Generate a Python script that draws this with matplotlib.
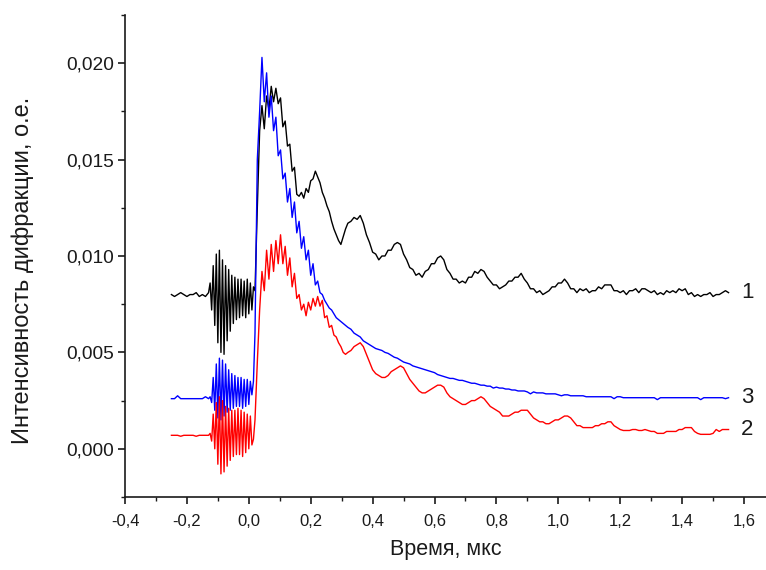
import numpy as np
import matplotlib
matplotlib.use("Agg")
import matplotlib.pyplot as plt
from matplotlib.ticker import MultipleLocator, FuncFormatter

plt.rcParams['font.family'] = ['Liberation Sans', 'DejaVu Sans']

# ---- data (intensity values in units of 1e-4) ----
# sampling grids: start, step for each segment
base_start, base_step = -0.25, 0.01      # quiet pre-trigger baseline
burst_start, burst_step = -0.125, 0.005  # pre-trigger oscillation burst
peak_start, peak_step = 0.02, 0.0075     # rise and peak
tail_start, tail_step = 0.33, 0.01       # decay

curve1_base = [80, 79, 80, 81, 80, 79, 80, 80, 81, 79, 80, 79, 81]
curve1_burst = [86, 72, 95, 64, 101, 55, 103, 50, 98, 49, 95, 56, 93, 61, 90,
                65, 89, 67, 88, 68, 88, 69, 87, 68, 88, 70, 86, 72, 84]
curve1_peak = [82, 125, 165, 178, 166, 183, 176, 188, 180, 187,
               179, 182, 167, 170, 157, 158, 144, 146, 132, 131,
               133, 130, 135, 133, 139, 140, 144, 141, 138, 133,
               130, 126, 123, 118, 114, 111, 108, 106, 110, 114,
               117]
curve1_tail = [118, 120, 119, 121, 117, 111, 107, 102, 101, 98,
               100, 100, 103, 103, 106, 107, 106, 101, 98, 94,
               93, 90, 91, 89, 92, 93, 96, 96, 99, 100,
               98, 93, 91, 88, 88, 86, 87, 86, 89, 89,
               92, 91, 93, 92, 89, 87, 85, 85, 83, 84,
               85, 87, 87, 89, 89, 91, 88, 86, 83, 83,
               81, 82, 80, 81, 82, 84, 84, 86, 86, 88,
               86, 83, 83, 81, 83, 82, 83, 81, 82, 82,
               84, 83, 85, 85, 85, 82, 82, 81, 82, 80,
               82, 82, 83, 81, 83, 83, 82, 81, 82, 80,
               81, 80, 82, 81, 82, 81, 83, 82, 83, 80,
               81, 79, 80, 79, 80, 80, 81, 79, 80, 80,
               81, 82, 81]

curve2_base = [7, 7, 7, 6.5, 7, 7, 7, 7, 6.5, 7, 7, 7, 7]
curve2_burst = [8, 4, 18, 0, 24, -8, 27, -13, 25, -12, 22, -9, 21, -6, 20,
                -4, 20, -3, 21, -3, 20, -4, 19, -2, 18, 0, 17, 2, 5]
curve2_peak = [15, 45, 72, 92, 82, 103, 88, 106, 92, 108,
               96, 111, 96, 105, 90, 99, 84, 91, 78, 80,
               72, 75, 69, 76, 72, 78, 74, 79, 74, 77,
               68, 69, 63, 64, 59, 58, 55, 53, 50, 49,
               50]
curve2_tail = [51, 53, 54, 55, 53, 49, 45, 41, 39, 38,
               37, 37, 38, 40, 41, 42, 43, 42, 39, 36,
               34, 32, 30, 29, 29, 30, 31, 32, 33, 33,
               32, 29, 27, 26, 25, 24, 23, 23, 24, 25,
               25, 26, 27, 26, 24, 22, 21, 20, 19, 17,
               17, 17, 18, 19, 19, 20, 20, 20, 18, 16,
               15, 14, 14, 13, 13, 14, 15, 15, 16, 17,
               17, 16, 14, 12, 12, 11, 11, 11, 11, 12,
               12, 13, 13, 14, 14, 12, 11, 10, 9.5, 9.5,
               9.5, 10, 10, 9.5, 9.5, 10, 9.5, 9, 9, 8,
               8, 8, 9, 9, 9, 9, 10, 10, 11, 11,
               11, 9, 8, 7.5, 7.5, 7.5, 7.5, 8, 10, 9,
               10, 10, 10]

curve3_base = [26, 26, 27.5, 26, 26, 26, 26, 26, 26, 26, 26, 27, 26]
curve3_burst = [27, 24, 37, 20, 44, 16, 47, 15, 46, 17, 44, 19, 41, 20, 39,
                21, 38, 22, 37, 22, 37, 21, 36, 22, 36, 23, 35, 28, 35]
curve3_peak = [60, 150, 175, 203, 180, 195, 172, 183, 165, 172,
               152, 155, 140, 143, 128, 135, 120, 128, 112, 118,
               104, 110, 98, 103, 90, 96, 85, 87, 81, 80,
               77, 75, 73, 72, 70, 68, 67, 66, 65, 64,
               63]
curve3_tail = [62, 60, 59, 58, 56, 55, 54, 53, 52, 51.5,
               51, 50, 49.5, 48.5, 47.5, 47, 46, 45, 44.5, 44,
               43, 42.5, 42, 41.5, 41, 40.5, 40, 39.5, 38.5, 38,
               37.5, 37, 36.5, 36.5, 36, 35.5, 35.5, 35, 34.5, 34,
               34, 33.5, 33, 33, 32.5, 32.5, 31.5, 32, 31.5, 31.5,
               31, 31, 30.5, 30.5, 30, 30, 30, 29.5, 28.5, 29.5,
               29, 29, 29, 28.5, 28.5, 28.5, 28.5, 28, 27.5, 28,
               28, 27.5, 27.5, 27.5, 27.5, 27.5, 27, 27, 27, 27,
               27, 27, 27, 27, 27, 26, 27, 27, 26.5, 26.5,
               26.5, 26.5, 26.5, 26.5, 26.5, 26.5, 26.5, 26.5, 26.5, 25.5,
               26.5, 26.5, 26.5, 26.5, 26.5, 26.5, 26.5, 26.5, 26.5, 26.5,
               26.5, 26.5, 26.5, 25.5, 26.5, 26.5, 26.5, 26.5, 26.5, 26.5,
               26.5, 26, 26.5]

curve_labels = ["1", "2", "3"]
curve_colors = ["black", "#ff0000", "#0000ff"]
x_ticks = [-0.4, -0.2, 0.0, 0.2, 0.4, 0.6, 0.8, 1.0, 1.2, 1.4, 1.6]
y_ticks = [0.000, 0.005, 0.010, 0.015, 0.020]
x_label = "Время, мкс"
y_label = "Интенсивность дифракции, о.е."


def build(base, burst, peak, tail):
    segs = [(base_start, base_step, base), (burst_start, burst_step, burst),
            (peak_start, peak_step, peak), (tail_start, tail_step, tail)]
    t, v = [], []
    for s0, ds, vals in segs:
        t.append(s0 + ds * np.arange(len(vals)))
        v.append(np.asarray(vals, dtype=float) * 1e-4)
    return np.concatenate(t), np.concatenate(v)


series = [build(curve1_base, curve1_burst, curve1_peak, curve1_tail),
          build(curve2_base, curve2_burst, curve2_peak, curve2_tail),
          build(curve3_base, curve3_burst, curve3_peak, curve3_tail)]

fig = plt.figure(figsize=(7.66, 5.70), dpi=100)
ax = fig.add_axes([125 / 766, 73 / 570, 641 / 766, 482 / 570])

# draw order: black, blue, red
for idx in [0, 2, 1]:
    t, v = series[idx]
    ax.plot(t, v, color=curve_colors[idx], lw=1.0)

for idx in range(3):
    t, v = series[idx]
    ax.text(1.59, v[-1], curve_labels[idx], ha='left', va='center',
            fontsize=16, color='#1a1a1a')

ax.set_xlim(-0.4, 1.671)
ax.set_ylim(-0.0025, 0.0225)
ax.spines['top'].set_visible(False)
ax.spines['right'].set_visible(False)
for s in ['left', 'bottom']:
    ax.spines[s].set_linewidth(1.2)
    ax.spines[s].set_color('#1a1a1a')

ax.set_xticks(x_ticks)
ax.set_yticks(y_ticks)
ax.xaxis.set_minor_locator(MultipleLocator(0.1))
ax.yaxis.set_minor_locator(MultipleLocator(0.0025))
ax.xaxis.set_major_formatter(FuncFormatter(lambda x, p: f"{x:.1f}".replace('.', ',')))
ax.yaxis.set_major_formatter(FuncFormatter(lambda y, p: f"{y:.3f}".replace('.', ',')))
ax.tick_params(which='major', direction='out', length=5, width=1.2, colors='#1a1a1a')
ax.tick_params(which='minor', direction='out', length=3, width=1.0, colors='#1a1a1a')
ax.tick_params(axis='x', labelsize=12, pad=7)
ax.tick_params(axis='y', labelsize=13.8, pad=3)

ax.set_xlabel(x_label, fontsize=15.5, color='#1a1a1a')
ax.xaxis.set_label_coords(0.5, -53 / 482)
ax.xaxis.label.set_va('center')
ax.set_ylabel(y_label, fontsize=17, color='#1a1a1a')
ax.yaxis.set_label_coords(-102 / 641, 0.47)
ax.yaxis.label.set_va('center')

fig.savefig("out.png", dpi=100)
